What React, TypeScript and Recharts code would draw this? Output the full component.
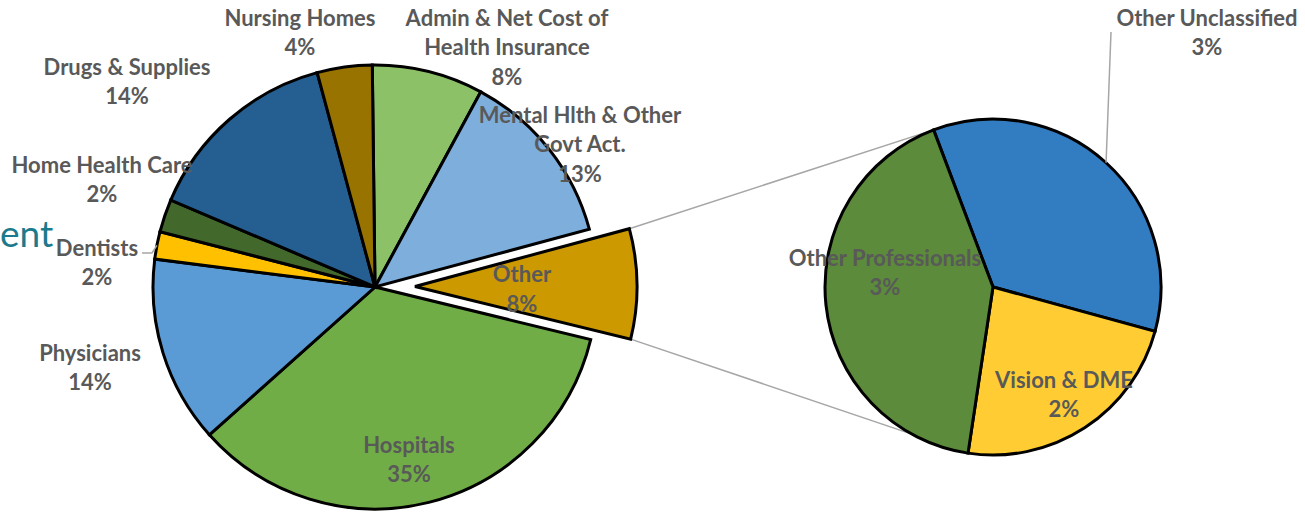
import React from 'react';
import { Cell, Pie, PieChart } from 'recharts';

// main pie, clockwise from 12 o'clock
const categories = [
  'Admin & Net Cost of Health Insurance',
  'Mental Hlth & Other Govt Act.',
  'Other',
  'Hospitals',
  'Physicians',
  'Dentists',
  'Home Health Care',
  'Drugs & Supplies',
  'Nursing Homes',
];
const shares = [8.1, 12.9, 8.0, 34.6, 13.6, 2.0, 2.4, 14.4, 4.0];
const labelLines = [
  ['Admin & Net Cost of', 'Health Insurance'],
  ['Mental Hlth & Other', 'Govt Act.'],
  ['Other'],
  ['Hospitals'],
  ['Physicians'],
  ['Dentists'],
  ['Home Health Care'],
  ['Drugs & Supplies'],
  ['Nursing Homes'],
];

// breakdown of "Other"
const otherCategories = ['Other Unclassified', 'Vision & DME', 'Other Professionals'];
const otherShares = [2.8, 1.85, 3.35];

const OTHER_IDX = 2;

const mainColors = ['#8CC168', '#7EAEDC', '#CC9900', '#70AD47', '#5B9BD5', '#FFC000', '#43682B', '#255E91', '#997300'];
const subColors = ['#327DC2', '#FFCD33', '#5B8B3B'];

const W = 1305;
const H = 512;
const MAIN = { cx: 375, cy: 287, r: 222, start: 90.7, explode: 40 };
const SUB = { cx: 993, cy: 287, r: 168, start: 110.7 };

const TEXT = '#595959';
const FONT = 'Lato, "Noto Sans", sans-serif';
const FS = 22;
const LH = 29.5;

// label first-line centre, relative to the centre of the pie that draws it
const mainLabelPos = [
  [132, -269],
  [205, -172],
  [107, -12],
  [34, 158],
  [-285, 66],
  [-278, -39],
  [-273, -122],
  [-248, -220],
  [-75, -269],
];
const subLabelPos = [
  [214, -269],
  [71, 93],
  [-108, -29],
];

const RAD = Math.PI / 180;
// angle measured clockwise from 12 o'clock
const pt = (cx: number, cy: number, r: number, a: number) => ({
  x: cx + r * Math.sin(a * RAD),
  y: cy - r * Math.cos(a * RAD),
});

const mainData = categories.map((name, i) => ({ name, value: shares[i] }));
const subData = otherCategories.map((name, i) => ({ name, value: otherShares[i] }));

const total = shares.reduce((a, b) => a + b, 0);
const subTotal = otherShares.reduce((a, b) => a + b, 0);
const mainStartCw = 90 - MAIN.start;
const otherStartCw = mainStartCw + (shares.slice(0, OTHER_IDX).reduce((a, b) => a + b, 0) / total) * 360;
const otherEndCw = otherStartCw + (shares[OTHER_IDX] / total) * 360;
const exploded = pt(MAIN.cx, MAIN.cy, MAIN.explode, (otherStartCw + otherEndCw) / 2);
const subStartCw = 90 - SUB.start;

const connectors = [
  [pt(exploded.x, exploded.y, MAIN.r, otherStartCw), pt(SUB.cx, SUB.cy, SUB.r, subStartCw)],
  [
    pt(exploded.x, exploded.y, MAIN.r, otherEndCw),
    pt(SUB.cx, SUB.cy, SUB.r, subStartCw + ((otherShares[0] + otherShares[1]) / subTotal) * 360),
  ],
];

const LabelText = ({ x, y, lines }: { x: number; y: number; lines: string[] }) => (
  <text x={x} y={y} textAnchor="middle" fill={TEXT} fontFamily={FONT} fontSize={FS} fontWeight="bold">
    {lines.map((l, i) => (
      <tspan key={i} x={x} y={y + i * LH} dy="0.35em">
        {l}
      </tspan>
    ))}
  </text>
);

const edgePoint = (p: any) => ({
  x: p.cx + p.outerRadius * Math.cos(-p.midAngle * RAD),
  y: p.cy + p.outerRadius * Math.sin(-p.midAngle * RAD),
});

const renderMainLabel = (onlyOther: boolean) => (p: any) => {
  const i = p.index;
  if ((i === OTHER_IDX) !== onlyOther) return null;
  const x = p.cx + mainLabelPos[i][0];
  const y = p.cy + mainLabelPos[i][1];
  const lines = [...labelLines[i], `${Math.round(p.value)}%`];
  let leader = null;
  if (categories[i] === 'Dentists') {
    const e = edgePoint(p);
    leader = (
      <polyline
        points={`${e.x},${e.y} ${e.x - 5},${y + 5} ${x + 45},${y + 5}`}
        fill="none"
        stroke="#A6A6A6"
        strokeWidth={1.5}
      />
    );
  }
  return (
    <g key={`ml-${i}`}>
      {leader}
      <LabelText x={x} y={y} lines={lines} />
    </g>
  );
};

const renderSubLabel = (p: any) => {
  const i = p.index;
  const x = p.cx + subLabelPos[i][0];
  const y = p.cy + subLabelPos[i][1];
  const lines = [otherCategories[i], `${Math.round(p.value)}%`];
  let leader = null;
  if (i === 0) {
    const e = edgePoint(p);
    leader = <line x1={e.x} y1={e.y} x2={x - 96} y2={y + 14} stroke="#A6A6A6" strokeWidth={1.5} />;
  }
  return (
    <g key={`sl-${i}`}>
      {leader}
      <LabelText x={x} y={y} lines={lines} />
    </g>
  );
};

export default function App() {
  return (
    <div style={{ position: 'absolute', left: 0, top: 0, width: W, height: H, background: '#fff', overflow: 'hidden' }}>
      <svg width={W} height={H} style={{ position: 'absolute', left: 0, top: 0 }}>
        <text x={0} y={247} fill="#1B7A8D" fontFamily={FONT} fontSize={37}>
          ent
        </text>
        {connectors.map(([a, b], i) => (
          <line key={i} x1={a.x} y1={a.y} x2={b.x} y2={b.y} stroke="#A6A6A6" strokeWidth={1.5} />
        ))}
      </svg>
      <div style={{ position: 'absolute', left: 0, top: 0 }}>
        <PieChart width={W} height={H} margin={{ top: 0, right: 0, bottom: 0, left: 0 }}>
          <Pie
            data={mainData}
            dataKey="value"
            nameKey="name"
            cx={MAIN.cx}
            cy={MAIN.cy}
            outerRadius={MAIN.r}
            startAngle={MAIN.start}
            endAngle={MAIN.start - 360}
            stroke="#000"
            strokeWidth={3}
            label={renderMainLabel(false)}
            labelLine={false}
            isAnimationActive={false}
          >
            {mainData.map((d, i) => (
              <Cell
                key={d.name}
                fill={i === OTHER_IDX ? 'none' : mainColors[i]}
                stroke={i === OTHER_IDX ? 'none' : '#000'}
              />
            ))}
          </Pie>
          <Pie
            data={mainData}
            dataKey="value"
            nameKey="name"
            cx={exploded.x}
            cy={exploded.y}
            outerRadius={MAIN.r}
            startAngle={MAIN.start}
            endAngle={MAIN.start - 360}
            stroke="#000"
            strokeWidth={3}
            label={renderMainLabel(true)}
            labelLine={false}
            isAnimationActive={false}
          >
            {mainData.map((d, i) => (
              <Cell
                key={d.name}
                fill={i === OTHER_IDX ? mainColors[i] : 'none'}
                stroke={i === OTHER_IDX ? '#000' : 'none'}
              />
            ))}
          </Pie>
          <Pie
            data={subData}
            dataKey="value"
            nameKey="name"
            cx={SUB.cx}
            cy={SUB.cy}
            outerRadius={SUB.r}
            startAngle={SUB.start}
            endAngle={SUB.start - 360}
            stroke="#000"
            strokeWidth={3}
            label={renderSubLabel}
            labelLine={false}
            isAnimationActive={false}
          >
            {subData.map((d, i) => (
              <Cell key={d.name} fill={subColors[i]} />
            ))}
          </Pie>
        </PieChart>
      </div>
    </div>
  );
}
